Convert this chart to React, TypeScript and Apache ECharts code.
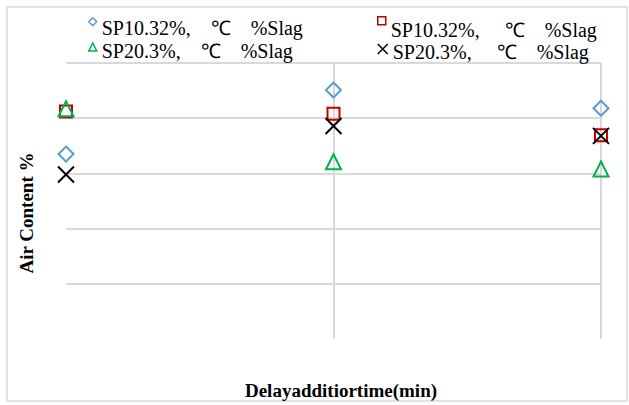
import React, { useEffect, useRef } from "react";
import * as echarts from "echarts";

const xValues = [0, 30, 60];
const seriesNames = [
  "SP10.32%,    ℃    %Slag",
  "SP10.32%,     ℃    %Slag",
  "SP20.3%,    ℃    %Slag",
  "SP20.3%,     ℃    %Slag",
];
const diamondValues = [3.35, 4.51, 4.18];
const squareValues = [4.12, 4.08, 3.69];
const triangleValues = [4.17, 3.21, 3.08];
const crossValues = [2.98, 3.86, 3.68];
const yTitle = "Air Content %";
const xTitle = "Delayadditiortime(min)";

const FONT = "Liberation Serif";
const CROSS = "path://M0,0L10,10M10,0L0,10";

export default function App() {
  const ref = useRef<HTMLDivElement>(null);
  useEffect(() => {
    document.body.style.margin = "0";
    const chart = echarts.init(ref.current!, null, { renderer: "svg" });
    const pts = (vals: number[]) => xValues.map((x, i) => [x, vals[i]]);
    const mk = (
      name: string,
      vals: number[],
      symbol: string,
      size: number,
      color: string
    ) => ({
      type: "scatter",
      name,
      data: pts(vals),
      symbol,
      symbolSize: size,
      itemStyle: { color: "rgba(255,255,255,0)", borderColor: color, borderWidth: 2, opacity: 1 },
      emphasis: { disabled: true },
    });
    // legend icon drawn at the top of a taller item box so the text sits lower, as in the reference
    const legendBase = (
      name: string,
      icon: string,
      left: number,
      top: number,
      w: number,
      h: number,
      color: string
    ) => ({
      data: [{ name, icon }],
      left,
      top,
      padding: 0,
      itemWidth: w,
      itemHeight: h,
      symbolKeepAspect: false,
      selectedMode: false,
      itemStyle: { color: "rgba(255,255,255,0)", borderColor: color, borderWidth: 1.5, opacity: 1 },
      textStyle: { fontFamily: FONT, fontSize: 20, lineHeight: 14, color: "#000" },
    });
    chart.setOption({
      animation: false,
      backgroundColor: "#fff",
      graphic: [
        {
          type: "rect",
          shape: { x: 7, y: 7, width: 620, height: 394 },
          style: { fill: "none", stroke: "#d9d9d9", lineWidth: 1.5 },
          silent: true,
        },
      ],
      legend: [
        legendBase(seriesNames[0], "path://M4,0L8,4L4,8L0,4ZM4,20", 88, 17, 8, 20, "#5B9BD5"),
        legendBase(seriesNames[2], "path://M4,0L8,8L0,8ZM4,16", 88, 41, 8, 16, "#00B050"),
        legendBase(seriesNames[1], "path://M0,0L8,0L8,8L0,8ZM4,26", 377, 16, 8, 26, "#C00000"),
        legendBase(seriesNames[3], "path://M0,0L10,10M10,0L0,10M5,16", 377, 42, 10, 16, "#000000"),
      ],
      grid: { left: 66, right: 28, top: 63, bottom: 65 },
      xAxis: {
        type: "value",
        min: 0,
        max: 60,
        interval: 30,
        name: xTitle,
        nameLocation: "middle",
        nameGap: 42,
        nameTextStyle: { fontFamily: FONT, fontSize: 19, fontWeight: "bold", color: "#000", padding: [0, 0, 0, 15] },
        axisLine: { show: false },
        axisTick: { show: false },
        axisLabel: { show: false },
        splitLine: { show: true, showMinLine: false, lineStyle: { color: "#d9d9d9", width: 2 } },
      },
      yAxis: {
        type: "value",
        min: 0,
        max: 5,
        interval: 1,
        name: yTitle,
        nameLocation: "middle",
        nameGap: 30,
        nameTextStyle: { fontFamily: FONT, fontSize: 19, fontWeight: "bold", color: "#000", padding: [0, 24, 0, 0] },
        axisLine: { show: false },
        axisTick: { show: false },
        axisLabel: { show: false },
        splitLine: { show: true, showMinLine: false, lineStyle: { color: "#d9d9d9", width: 2 } },
      },
      series: [
        mk(seriesNames[0], diamondValues, "diamond", 15, "#5B9BD5"),
        mk(seriesNames[1], squareValues, "rect", 12, "#C00000"),
        mk(seriesNames[2], triangleValues, "triangle", 15, "#00B050"),
        mk(seriesNames[3], crossValues, CROSS, 16, "#000000"),
      ],
    });
    return () => chart.dispose();
  }, []);
  return <div ref={ref} style={{ width: 629, height: 405 }} />;
}
